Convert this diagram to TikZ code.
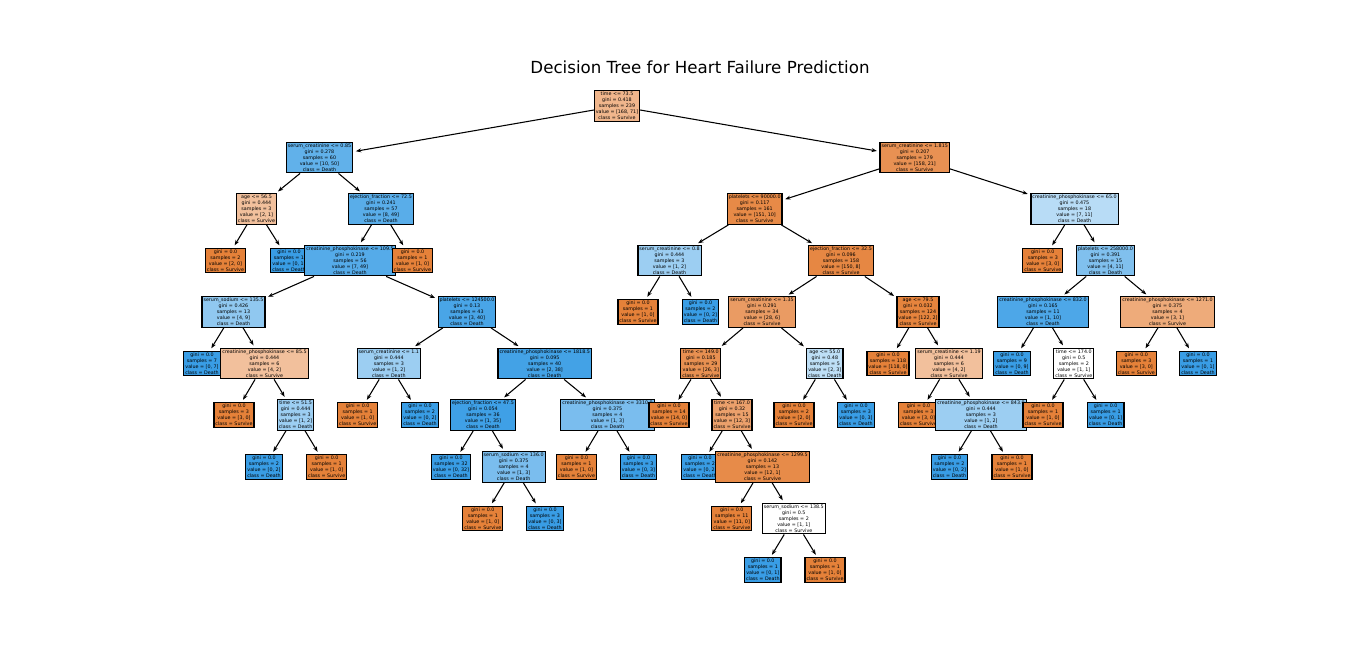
\documentclass[tikz,border=0pt]{standalone}
\usepackage{fontspec}
\setmainfont{DejaVu Sans}
\usetikzlibrary{arrows.meta}

\definecolor{surv}{RGB}{229,129,57}
\definecolor{death}{RGB}{57,157,229}
\newcommand{\sptxt}[5]{#1\\gini = #2\\samples = #3\\value = #4\\class = #5}
\newcommand{\lftxt}[4]{gini = #1\\samples = #2\\value = #3\\class = #4}

\tikzset{every picture/.style={line width=0.75pt}}
\tikzset{
  box/.style={draw=black, line width=0.9pt, align=center, inner sep=1.1pt, font=\fontsize{3.6}{4.5}\selectfont},
  sv/.style={box, fill=surv!#1}, sv/.default=100,
  dt/.style={box, fill=death!#1}, dt/.default=100,
  edge/.style={-{Stealth[length=4pt,width=3pt]}, line width=0.8pt, shorten >=2pt}
}

\begin{document}
\begin{tikzpicture}[x=0.75pt,y=0.75pt,yscale=-1,xscale=1]
\useasboundingbox (0,0) rectangle (1366,669);

% Title
\node[font=\fontsize{12.5}{15}\selectfont] (title) at (700,67) {Decision Tree for Heart Failure Prediction};

% Level 0
\node[sv=58] (r) at (617,106) {\sptxt{time <= 73.5}{0.418}{239}{[168, 71]}{Survive}};
% Level 1
\node[dt=80] (rl) at (319.5,157.5) {\sptxt{serum\_creatinine <= 0.85}{0.278}{60}{[10, 50]}{Death}};
\node[sv=87] (rr) at (914.7,157.5) {\sptxt{serum\_creatinine <= 1.815}{0.207}{179}{[158, 21]}{Survive}};
% Level 2
\node[sv=50] (rll) at (256.5,209) {\sptxt{age <= 56.5}{0.444}{3}{[2, 1]}{Survive}};
\node[dt=84] (rlr) at (381,209) {\sptxt{ejection\_fraction <= 72.5}{0.241}{57}{[8, 49]}{Death}};
\node[sv=93] (rrl) at (754.7,209) {\sptxt{platelets <= 90000.0}{0.117}{161}{[151, 10]}{Survive}};
\node[dt=36] (rrr) at (1074.5,209) {\sptxt{creatinine\_phosphokinase <= 65.0}{0.475}{18}{[7, 11]}{Death}};
% Level 3
\node[sv] (rlll) at (225.5,260.5) {\lftxt{0.0}{2}{[2, 0]}{Survive}};
\node[dt] (rllr) at (289,260.5) {\lftxt{0.0}{1}{[0, 1]}{Death}};
\node[dt=86] (rlrl) at (350,260.5) {\sptxt{creatinine\_phosphokinase <= 109.5}{0.219}{56}{[7, 49]}{Death}};
\node[sv] (rlrr) at (412.5,260.5) {\lftxt{0.0}{1}{[1, 0]}{Survive}};
\node[dt=50] (rrll) at (669.5,260.5) {\sptxt{serum\_creatinine <= 0.8}{0.444}{3}{[1, 2]}{Death}};
\node[sv=95] (rrlr) at (841,260.5) {\sptxt{ejection\_fraction <= 32.5}{0.096}{158}{[150, 8]}{Survive}};
\node[sv] (rrrl) at (1042.8,260.5) {\lftxt{0.0}{3}{[3, 0]}{Survive}};
\node[dt=64] (rrrr) at (1105.5,260.5) {\sptxt{platelets <= 258000.0}{0.391}{15}{[4, 11]}{Death}};
% Level 4
\node[dt=56] (rlrll) at (233.5,312) {\sptxt{serum\_sodium <= 135.5}{0.426}{13}{[4, 9]}{Death}};
\node[dt=92] (rlrlr) at (467,312) {\sptxt{platelets <= 124500.0}{0.13}{43}{[3, 40]}{Death}};
\node[sv] (rrlll) at (638,312) {\lftxt{0.0}{1}{[1, 0]}{Survive}};
\node[dt] (rrllr) at (700.5,312) {\lftxt{0.0}{2}{[0, 2]}{Death}};
\node[sv=79] (rrlrl) at (762,312) {\sptxt{serum\_creatinine <= 1.35}{0.291}{34}{[28, 6]}{Survive}};
\node[sv=98] (rrlrr) at (918,312) {\sptxt{age <= 79.5}{0.032}{124}{[122, 2]}{Survive}};
\node[dt=90] (rrrrl) at (1043,312) {\sptxt{creatinine\_phosphokinase <= 832.0}{0.165}{11}{[1, 10]}{Death}};
\node[sv=67] (rrrrr) at (1167.5,312) {\sptxt{creatinine\_phosphokinase <= 1271.0}{0.375}{4}{[3, 1]}{Survive}};
% Level 5
\node[dt] (rlrlll) at (202,363.5) {\lftxt{0.0}{7}{[0, 7]}{Death}};
\node[sv=50] (rlrllr) at (264.5,363.5) {\sptxt{creatinine\_phosphokinase <= 85.5}{0.444}{6}{[4, 2]}{Survive}};
\node[dt=50] (rlrlrl) at (388.8,363.5) {\sptxt{serum\_creatinine <= 1.1}{0.444}{3}{[1, 2]}{Death}};
\node[dt=95] (rlrlrr) at (544.7,363.5) {\sptxt{creatinine\_phosphokinase <= 1818.5}{0.095}{40}{[2, 38]}{Death}};
\node[sv=88] (rrlrll) at (700.8,363.5) {\sptxt{time <= 149.0}{0.185}{29}{[26, 3]}{Survive}};
\node[dt=33] (rrlrlr) at (824.8,363.5) {\sptxt{age <= 55.0}{0.48}{5}{[2, 3]}{Death}};
\node[sv] (rrlrrl) at (888,363.5) {\lftxt{0.0}{118}{[118, 0]}{Survive}};
\node[sv=50] (rrlrrr) at (949,363.5) {\sptxt{serum\_creatinine <= 1.19}{0.444}{6}{[4, 2]}{Survive}};
\node[dt] (rrrrll) at (1012,363.5) {\lftxt{0.0}{9}{[0, 9]}{Death}};
\node[box, fill=white] (rrrrlr) at (1073.8,363.5) {\sptxt{time <= 174.0}{0.5}{2}{[1, 1]}{Survive}};
\node[sv] (rrrrrl) at (1136.3,363.5) {\lftxt{0.0}{3}{[3, 0]}{Survive}};
\node[dt] (rrrrrr) at (1198,363.5) {\lftxt{0.0}{1}{[0, 1]}{Death}};
% Level 6
\node[sv] (rlrllrl) at (234,415) {\lftxt{0.0}{3}{[3, 0]}{Survive}};
\node[dt=50] (rlrllrr) at (295.6,415) {\sptxt{time <= 51.5}{0.444}{3}{[1, 2]}{Death}};
\node[sv] (rlrlrll) at (357.7,415) {\lftxt{0.0}{1}{[1, 0]}{Survive}};
\node[dt] (rlrlrlr) at (420,415) {\lftxt{0.0}{2}{[0, 2]}{Death}};
\node[dt=97] (rlrlrrl) at (483,415) {\sptxt{ejection\_fraction <= 47.5}{0.054}{36}{[1, 35]}{Death}};
\node[dt=67] (rlrlrrr) at (607.5,415) {\sptxt{creatinine\_phosphokinase <= 3310.0}{0.375}{4}{[1, 3]}{Death}};
\node[sv] (rrlrlll) at (669,415) {\lftxt{0.0}{14}{[14, 0]}{Survive}};
\node[sv=75] (rrlrllr) at (732,415) {\sptxt{time <= 167.0}{0.32}{15}{[12, 3]}{Survive}};
\node[sv] (rrlrlrl) at (794,415) {\lftxt{0.0}{2}{[2, 0]}{Survive}};
\node[dt] (rrlrlrr) at (856,415) {\lftxt{0.0}{3}{[0, 3]}{Death}};
\node[sv] (rrlrrrl) at (918.5,415) {\lftxt{0.0}{3}{[3, 0]}{Survive}};
\node[dt=50] (rrlrrrr) at (981,415) {\sptxt{creatinine\_phosphokinase <= 843.0}{0.444}{3}{[1, 2]}{Death}};
\node[sv] (rrrrlrl) at (1043,415) {\lftxt{0.0}{1}{[1, 0]}{Survive}};
\node[dt] (rrrrlrr) at (1105.7,415) {\lftxt{0.0}{1}{[0, 1]}{Death}};
% Level 7
\node[dt] (rlrllrrl) at (264,467) {\lftxt{0.0}{2}{[0, 2]}{Death}};
\node[sv] (rlrllrrr) at (326.7,467) {\lftxt{0.0}{1}{[1, 0]}{Survive}};
\node[dt] (rlrlrrll) at (451,467) {\lftxt{0.0}{32}{[0, 32]}{Death}};
\node[dt=67] (rlrlrrlr) at (513.7,467) {\sptxt{serum\_sodium <= 136.0}{0.375}{4}{[1, 3]}{Death}};
\node[sv] (rlrlrrrl) at (576.5,467) {\lftxt{0.0}{1}{[1, 0]}{Survive}};
\node[dt] (rlrlrrrr) at (638.5,467) {\lftxt{0.0}{3}{[0, 3]}{Death}};
\node[dt] (rrlrllrl) at (700,467) {\lftxt{0.0}{2}{[0, 2]}{Death}};
\node[sv=92] (rrlrllrr) at (762.5,467) {\sptxt{creatinine\_phosphokinase <= 1299.5}{0.142}{13}{[12, 1]}{Survive}};
\node[dt] (rrlrrrrl) at (949.5,467) {\lftxt{0.0}{2}{[0, 2]}{Death}};
\node[sv] (rrlrrrrr) at (1012,467) {\lftxt{0.0}{1}{[1, 0]}{Survive}};
% Level 8
\node[sv] (rlrlrrlrl) at (482.8,518.5) {\lftxt{0.0}{1}{[1, 0]}{Survive}};
\node[dt] (rlrlrrlrr) at (545,518.5) {\lftxt{0.0}{3}{[0, 3]}{Death}};
\node[sv] (rrlrllrrl) at (731.8,518.5) {\lftxt{0.0}{11}{[11, 0]}{Survive}};
\node[box, fill=white] (rrlrllrrr) at (793.8,518.5) {\sptxt{serum\_sodium <= 138.5}{0.5}{2}{[1, 1]}{Survive}};
% Level 9
\node[dt] (rrlrllrrrl) at (762.8,570) {\lftxt{0.0}{1}{[0, 1]}{Death}};
\node[sv] (rrlrllrrrr) at (825,570) {\lftxt{0.0}{1}{[1, 0]}{Survive}};

% Edges
\draw[edge] (r) -- (rl); \draw[edge] (r) -- (rr);
\draw[edge] (rl) -- (rll); \draw[edge] (rl) -- (rlr);
\draw[edge] (rr) -- (rrl); \draw[edge] (rr) -- (rrr);
\draw[edge] (rll) -- (rlll); \draw[edge] (rll) -- (rllr);
\draw[edge] (rlr) -- (rlrl); \draw[edge] (rlr) -- (rlrr);
\draw[edge] (rrl) -- (rrll); \draw[edge] (rrl) -- (rrlr);
\draw[edge] (rrr) -- (rrrl); \draw[edge] (rrr) -- (rrrr);
\draw[edge] (rlrl) -- (rlrll); \draw[edge] (rlrl) -- (rlrlr);
\draw[edge] (rrll) -- (rrlll); \draw[edge] (rrll) -- (rrllr);
\draw[edge] (rrlr) -- (rrlrl); \draw[edge] (rrlr) -- (rrlrr);
\draw[edge] (rrrr) -- (rrrrl); \draw[edge] (rrrr) -- (rrrrr);
\draw[edge] (rlrll) -- (rlrlll); \draw[edge] (rlrll) -- (rlrllr);
\draw[edge] (rlrlr) -- (rlrlrl); \draw[edge] (rlrlr) -- (rlrlrr);
\draw[edge] (rrlrl) -- (rrlrll); \draw[edge] (rrlrl) -- (rrlrlr);
\draw[edge] (rrlrr) -- (rrlrrl); \draw[edge] (rrlrr) -- (rrlrrr);
\draw[edge] (rrrrl) -- (rrrrll); \draw[edge] (rrrrl) -- (rrrrlr);
\draw[edge] (rrrrr) -- (rrrrrl); \draw[edge] (rrrrr) -- (rrrrrr);
\draw[edge] (rlrllr) -- (rlrllrl); \draw[edge] (rlrllr) -- (rlrllrr);
\draw[edge] (rlrlrl) -- (rlrlrll); \draw[edge] (rlrlrl) -- (rlrlrlr);
\draw[edge] (rlrlrr) -- (rlrlrrl); \draw[edge] (rlrlrr) -- (rlrlrrr);
\draw[edge] (rrlrll) -- (rrlrlll); \draw[edge] (rrlrll) -- (rrlrllr);
\draw[edge] (rrlrlr) -- (rrlrlrl); \draw[edge] (rrlrlr) -- (rrlrlrr);
\draw[edge] (rrlrrr) -- (rrlrrrl); \draw[edge] (rrlrrr) -- (rrlrrrr);
\draw[edge] (rrrrlr) -- (rrrrlrl); \draw[edge] (rrrrlr) -- (rrrrlrr);
\draw[edge] (rlrllrr) -- (rlrllrrl); \draw[edge] (rlrllrr) -- (rlrllrrr);
\draw[edge] (rlrlrrl) -- (rlrlrrll); \draw[edge] (rlrlrrl) -- (rlrlrrlr);
\draw[edge] (rlrlrrr) -- (rlrlrrrl); \draw[edge] (rlrlrrr) -- (rlrlrrrr);
\draw[edge] (rrlrllr) -- (rrlrllrl); \draw[edge] (rrlrllr) -- (rrlrllrr);
\draw[edge] (rrlrrrr) -- (rrlrrrrl); \draw[edge] (rrlrrrr) -- (rrlrrrrr);
\draw[edge] (rlrlrrlr) -- (rlrlrrlrl); \draw[edge] (rlrlrrlr) -- (rlrlrrlrr);
\draw[edge] (rrlrllrr) -- (rrlrllrrl); \draw[edge] (rrlrllrr) -- (rrlrllrrr);
\draw[edge] (rrlrllrrr) -- (rrlrllrrrl); \draw[edge] (rrlrllrrr) -- (rrlrllrrrr);

\end{tikzpicture}
\end{document}
